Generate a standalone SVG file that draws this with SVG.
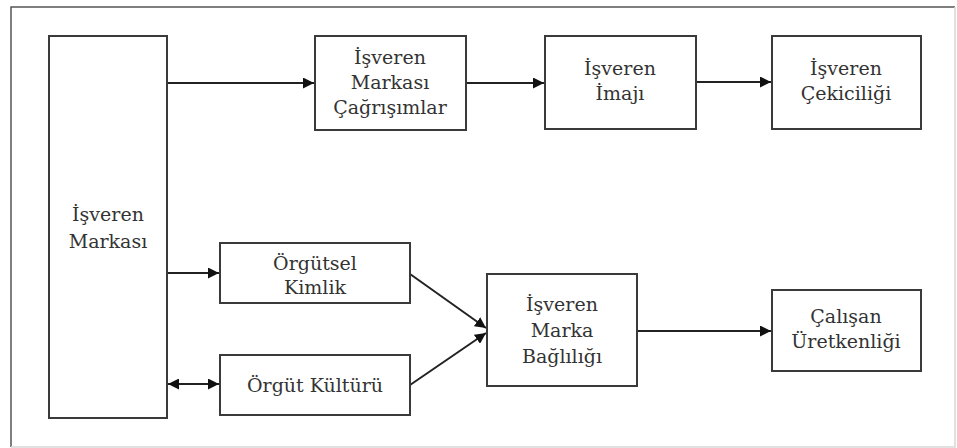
<svg xmlns="http://www.w3.org/2000/svg" width="957" height="448" viewBox="0 0 957 448">
  <style>
    .box { fill: #ffffff; stroke: #3a3a3a; stroke-width: 2; }
    .lbl { font-family: "DejaVu Serif", "Liberation Serif", serif; font-size: 19px; fill: #333333; text-anchor: middle; }
    .link { fill: none; stroke: #222222; stroke-width: 2; }
  </style>
  <defs>
    <marker id="arrow" viewBox="0 0 10 10" refX="10" refY="5" markerWidth="5.5" markerHeight="5.5" orient="auto-start-reverse" markerUnits="strokeWidth">
      <path d="M0,0 L10,5 L0,10 z" fill="#111111"/>
    </marker>
  </defs>

  <!-- page background and frame -->
  <rect x="0" y="0" width="957" height="448" fill="#ffffff"/>
  <path d="M11,447 L11,7 L955,7" fill="none" stroke="#555555" stroke-width="1.5"/>
  <path d="M955,7 L955,447 L11,447" fill="none" stroke="#d8d8d8" stroke-width="1.5"/>

  <!-- connectors -->
  <g id="connectors">
    <line class="link" x1="167" y1="83" x2="314" y2="83" marker-end="url(#arrow)"/>
    <line class="link" x1="466" y1="83" x2="544" y2="83" marker-end="url(#arrow)"/>
    <line class="link" x1="696" y1="82" x2="771" y2="82" marker-end="url(#arrow)"/>
    <line class="link" x1="167" y1="273" x2="219" y2="273" marker-end="url(#arrow)"/>
    <line class="link" x1="168" y1="384" x2="219" y2="384" marker-start="url(#arrow)" marker-end="url(#arrow)"/>
    <line class="link" x1="410" y1="274" x2="486" y2="328" marker-end="url(#arrow)"/>
    <line class="link" x1="410" y1="385" x2="486" y2="333" marker-end="url(#arrow)"/>
    <line class="link" x1="637" y1="331" x2="771" y2="331" marker-end="url(#arrow)"/>
  </g>

  <g id="isveren-markasi">
    <rect class="box" x="49" y="36" width="118" height="382"/>
    <text class="lbl" x="108" y="221">İşveren</text>
    <text class="lbl" x="108" y="248">Markası</text>
  </g>

  <g id="cagrisimlar">
    <rect class="box" x="315" y="36" width="151" height="94"/>
    <text class="lbl" x="390" y="64">İşveren</text>
    <text class="lbl" x="390" y="89">Markası</text>
    <text class="lbl" x="390" y="114">Çağrışımlar</text>
  </g>

  <g id="imaj">
    <rect class="box" x="545" y="36" width="151" height="93"/>
    <text class="lbl" x="620" y="75">İşveren</text>
    <text class="lbl" x="620" y="100">İmajı</text>
  </g>

  <g id="cekicilik">
    <rect class="box" x="772" y="36" width="149" height="93"/>
    <text class="lbl" x="846" y="75">İşveren</text>
    <text class="lbl" x="846" y="100">Çekiciliği</text>
  </g>

  <g id="orgutsel-kimlik">
    <rect class="box" x="220" y="243" width="190" height="60"/>
    <text class="lbl" x="315" y="270">Örgütsel</text>
    <text class="lbl" x="315" y="294">Kimlik</text>
  </g>

  <g id="orgut-kulturu">
    <rect class="box" x="220" y="355" width="190" height="60"/>
    <text class="lbl" x="315" y="392">Örgüt Kültürü</text>
  </g>

  <g id="marka-bagliligi">
    <rect class="box" x="487" y="274" width="150" height="112"/>
    <text class="lbl" x="562" y="311">İşveren</text>
    <text class="lbl" x="562" y="337">Marka</text>
    <text class="lbl" x="562" y="363">Bağlılığı</text>
  </g>

  <g id="calisan-uretkenligi">
    <rect class="box" x="772" y="290" width="149" height="81"/>
    <text class="lbl" x="846" y="323">Çalışan</text>
    <text class="lbl" x="846" y="348">Üretkenliği</text>
  </g>
</svg>
